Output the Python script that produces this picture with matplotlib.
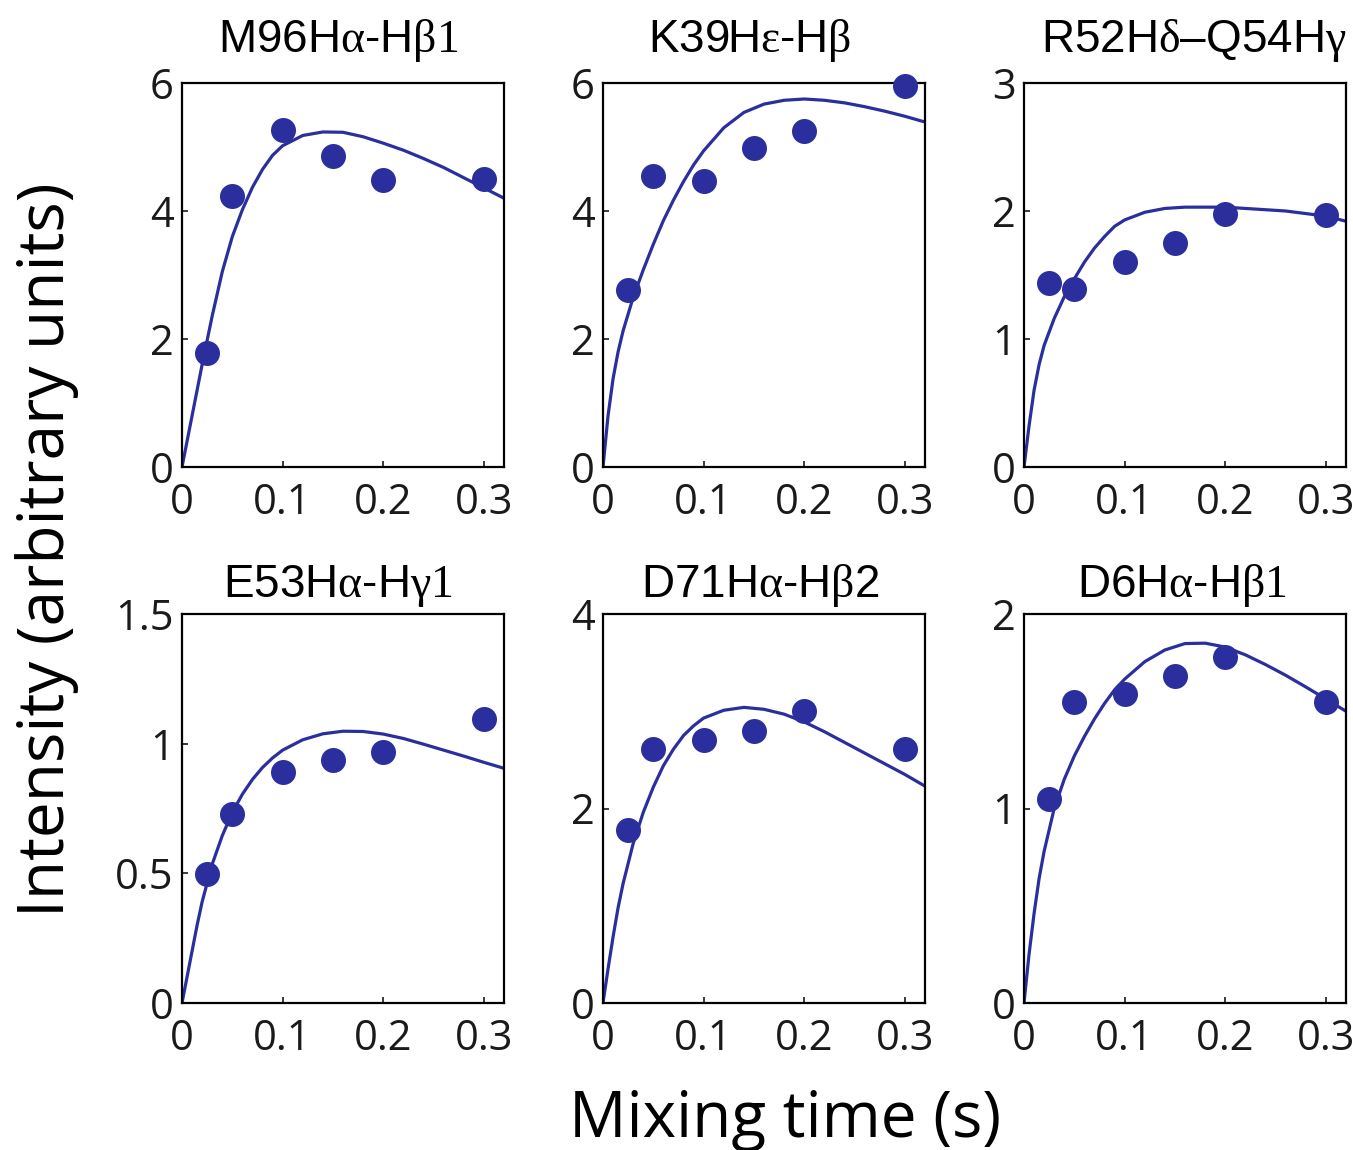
import matplotlib.pyplot as plt

plt.rcParams['font.family'] = 'Open Sans'
plt.rcParams['mathtext.fontset'] = 'custom'
plt.rcParams['mathtext.cal'] = 'Liberation Serif'
plt.rcParams['mathtext.rm'] = 'Liberation Sans'

# NOE build-up: measured cross-peak intensities and fitted curves
titles = [
    r'M96H$\mathcal{\alpha}$-H$\mathcal{\beta}\mathcal{1}$',
    r'K39H$\mathcal{\varepsilon}$-H$\mathcal{\beta}$',
    r'R52H$\mathcal{\delta}$–Q54H$\mathcal{\gamma}$',
    r'E53H$\mathcal{\alpha}$-H$\mathcal{\gamma}\mathcal{1}$',
    r'D71H$\mathcal{\alpha}$-H$\mathcal{\beta}$2',
    r'D6H$\mathcal{\alpha}$-H$\mathcal{\beta}\mathcal{1}$',
]

mix_t = [0.025, 0.05, 0.1, 0.15, 0.2, 0.3]

m96_pts = [1.78, 4.24, 5.27, 4.86, 4.48, 4.50]
k39_pts = [2.77, 4.54, 4.47, 4.99, 5.25, 5.96]
r52_pts = [1.44, 1.39, 1.60, 1.75, 1.98, 1.97]
e53_pts = [0.497, 0.727, 0.89, 0.938, 0.969, 1.094]
d71_pts = [1.78, 2.61, 2.70, 2.80, 3.00, 2.61]
d6_pts = [1.05, 1.55, 1.59, 1.68, 1.78, 1.55]

fit_t = [0, 0.005, 0.01, 0.015, 0.02, 0.03, 0.04, 0.05, 0.06, 0.07, 0.08,
         0.09, 0.10, 0.12, 0.14, 0.16, 0.18, 0.20, 0.22, 0.24, 0.26, 0.28,
         0.30, 0.32]

m96_fit = [0, 0.40, 0.80, 1.20, 1.60, 2.36, 3.05, 3.60, 4.02, 4.37, 4.65,
           4.87, 5.02, 5.18, 5.235, 5.23, 5.16, 5.06, 4.95, 4.82, 4.68, 4.52,
           4.36, 4.20]
k39_fit = [0, 0.80, 1.38, 1.80, 2.13, 2.65, 3.08, 3.48, 3.85, 4.17, 4.46,
           4.72, 4.94, 5.30, 5.54, 5.67, 5.73, 5.75, 5.73, 5.69, 5.63, 5.56,
           5.48, 5.39]
r52_fit = [0, 0.32, 0.60, 0.80, 0.95, 1.16, 1.33, 1.47, 1.60, 1.71, 1.80,
           1.88, 1.93, 1.99, 2.02, 2.03, 2.03, 2.03, 2.02, 2.01, 2.00, 1.98,
           1.96, 1.92]
e53_fit = [0, 0.10, 0.20, 0.30, 0.39, 0.535, 0.645, 0.735, 0.805, 0.862,
           0.908, 0.945, 0.975, 1.015, 1.038, 1.048, 1.047, 1.037, 1.02,
           0.998, 0.975, 0.952, 0.928, 0.905]
d71_fit = [0, 0.35, 0.68, 0.98, 1.23, 1.64, 1.96, 2.22, 2.44, 2.61, 2.75,
           2.85, 2.93, 3.01, 3.04, 3.02, 2.97, 2.89, 2.79, 2.68, 2.57, 2.46,
           2.35, 2.23]
d6_fit = [0, 0.25, 0.46, 0.64, 0.78, 1.00, 1.15, 1.27, 1.37, 1.46, 1.54,
          1.61, 1.665, 1.755, 1.815, 1.848, 1.85, 1.83, 1.79, 1.74, 1.685,
          1.625, 1.563, 1.50]

points = [m96_pts, k39_pts, r52_pts, e53_pts, d71_pts, d6_pts]
fits = [m96_fit, k39_fit, r52_fit, e53_fit, d71_fit, d6_fit]

y_ticks = [[0, 2, 4, 6], [0, 2, 4, 6], [0, 1, 2, 3],
           [0, 0.5, 1, 1.5], [0, 2, 4], [0, 1, 2]]
y_ticklabels = [['0', '2', '4', '6'], ['0', '2', '4', '6'], ['0', '1', '2', '3'],
                ['0', '0.5', '1', '1.5'], ['0', '2', '4'], ['0', '1', '2']]
x_ticks = [0, 0.1, 0.2, 0.3]
x_ticklabels = ['0', '0.1', '0.2', '0.3']

W, H = 1353, 1150
blue = '#2b2f9e'

fig = plt.figure(figsize=(W / 100, H / 100), dpi=100)

# panel boxes in pixels
col_left = [182, 603, 1024]
ax_w = 322
row_top = [83, 614]
row_bot = [467, 1003]
title_xy = [(338, 52), (750, 52), (1194, 52), (338, 597), (760, 597), (1182, 597)]

for i in range(6):
    r, c = divmod(i, 3)
    ax = fig.add_axes([col_left[c] / W, 1 - row_bot[r] / H,
                       ax_w / W, (row_bot[r] - row_top[r]) / H])
    ax.plot(fit_t, fits[i], color=blue, lw=2.3, zorder=2)
    ax.plot(mix_t, points[i], 'o', color=blue, ms=18, mec='none',
            zorder=3, clip_on=False)
    ax.set_xlim(0, 0.32)
    ax.set_ylim(0, y_ticks[i][-1])
    ax.set_xticks(x_ticks)
    ax.set_xticklabels(x_ticklabels)
    ax.set_yticks(y_ticks[i])
    ax.set_yticklabels(y_ticklabels[i])
    ax.tick_params(direction='in', length=4, width=1.2, labelsize=30,
                   colors='#1a1a1a')
    ax.tick_params(axis='x', pad=11)
    ax.tick_params(axis='y', pad=6)
    for sp in ax.spines.values():
        sp.set_linewidth(1.6)
    tx, ty = title_xy[i]
    fig.text(tx / W, 1 - ty / H, titles[i], ha='center', va='baseline',
             fontsize=33, fontfamily='Liberation Sans')

fig.text(47 / W, 1 - 550 / H, 'Intensity (arbitrary units)', rotation=90,
         ha='center', va='center', fontsize=46)
fig.text(785 / W, 1 - 1137 / H, 'Mixing time (s)', ha='center',
         va='baseline', fontsize=46)

fig.savefig('out.png', dpi=100, facecolor='white')
